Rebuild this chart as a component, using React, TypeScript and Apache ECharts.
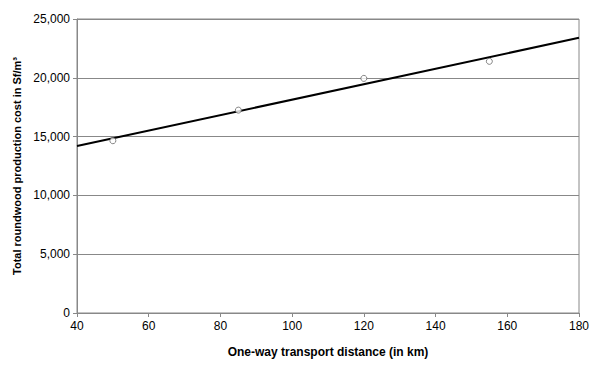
import React, { useEffect, useRef } from "react";
import * as echarts from "echarts";

const distances = [50, 85, 120, 155];
const costs = [14650, 17250, 19950, 21400];
const trendX = [40, 180];
const trendY = [14200, 23400];
const xTicks = { min: 40, max: 180, interval: 20 };
const yTicks = { min: 0, max: 25000, interval: 5000 };

const FONT = "Liberation Sans, Arial, sans-serif";

export default function App() {
  const ref = useRef<HTMLDivElement>(null);
  useEffect(() => {
    const chart = echarts.init(ref.current!, null, { renderer: "svg" });
    chart.setOption({
      animation: false,
      backgroundColor: "#ffffff",
      textStyle: { fontFamily: FONT },
      grid: {
        left: 77,
        right: 21,
        top: 19,
        bottom: 55,
        show: true,
        borderColor: "#888888",
        borderWidth: 1,
        backgroundColor: "transparent",
      },
      xAxis: {
        type: "value",
        min: xTicks.min,
        max: xTicks.max,
        interval: xTicks.interval,
        name: "One-way transport distance (in km)",
        nameLocation: "middle",
        nameGap: 33,
        nameTextStyle: { fontFamily: FONT, fontSize: 12, fontWeight: "bold", color: "#000" },
        axisLine: { show: true, lineStyle: { color: "#888888", width: 1 } },
        axisTick: { show: true, length: 4, inside: false, lineStyle: { color: "#888888" } },
        axisLabel: { fontFamily: FONT, fontSize: 12, color: "#000", margin: 7 },
        splitLine: { show: false },
      },
      yAxis: {
        type: "value",
        min: yTicks.min,
        max: yTicks.max,
        interval: yTicks.interval,
        name: "Total roundwood production cost in Sf/m³",
        nameLocation: "middle",
        nameGap: 49,
        nameTextStyle: { fontFamily: FONT, fontSize: 11, fontWeight: "bold", color: "#000" },
        axisLine: { show: true, lineStyle: { color: "#888888", width: 1 } },
        axisTick: { show: true, length: 4, inside: false, lineStyle: { color: "#888888" } },
        axisLabel: {
          fontFamily: FONT,
          fontSize: 12,
          color: "#000",
          margin: 7,
          formatter: (v: number) => v.toLocaleString("en-US"),
        },
        splitLine: { show: true, lineStyle: { color: "#888888", width: 1 } },
      },
      series: [
        {
          type: "line",
          data: trendX.map((x, i) => [x, trendY[i]]),
          symbol: "none",
          lineStyle: { color: "#000000", width: 2 },
          z: 3,
        },
        {
          type: "scatter",
          data: distances.map((x, i) => [x, costs[i]]),
          symbol: "circle",
          symbolSize: 6,
          itemStyle: { color: "#ffffff", borderColor: "#666666", borderWidth: 1 },
          z: 4,
        },
      ],
    });
    return () => chart.dispose();
  }, []);
  return <div ref={ref} style={{ width: 600, height: 368, position: "absolute", left: 0, top: 0 }} />;
}
